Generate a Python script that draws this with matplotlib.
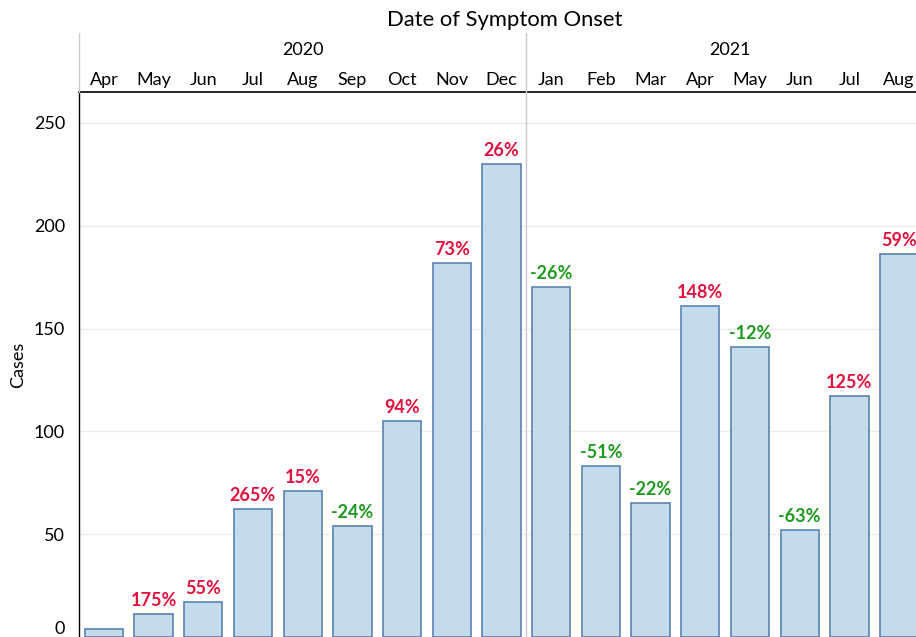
import numpy as np
import matplotlib.pyplot as plt
import matplotlib.transforms as mtransforms
from matplotlib.lines import Line2D

plt.rcParams['font.family'] = ['Lato', 'DejaVu Sans']

months = ['Apr', 'May', 'Jun', 'Jul', 'Aug', 'Sep', 'Oct', 'Nov', 'Dec',
          'Jan', 'Feb', 'Mar', 'Apr', 'May', 'Jun', 'Jul', 'Aug']
years = ['2020', '2021']
cases = [4, 11, 17, 62, 71, 54, 105, 182, 230, 170, 83, 65, 161, 141, 52, 117, 186]
pct = ['', '175%', '55%', '265%', '15%', '-24%', '94%', '73%', '26%',
       '-26%', '-51%', '-22%', '148%', '-12%', '-63%', '125%', '59%']
yticks = [0, 50, 100, 150, 200, 250]

W, H = 916, 637
fig = plt.figure(figsize=(W / 100, H / 100), dpi=100)
left, top, bottom = 79, 92, 637
ax = fig.add_axes([left / W, (H - bottom) / H, 1 - left / W, (bottom - top) / H])

x = np.arange(len(months))
ax.bar(x, cases, width=0.77, color='#c3dbed', edgecolor='#5a82b0', linewidth=1.2, zorder=2)

red, green = '#e3113d', '#1f9a1f'
for i, (v, p) in enumerate(zip(cases, pct)):
    if p:
        ax.text(i, v + 2.5, p, ha='center', va='bottom', fontsize=13, fontweight='bold',
                color=green if p.startswith('-') else red, zorder=3)

ax.set_xlim(-0.5, 16.34)
ax.set_ylim(0, 265)
ax.set_yticks(yticks)
ax.set_yticklabels([str(t) for t in yticks], fontsize=13)
ax.get_yticklabels()[0].set_verticalalignment('bottom')
ax.tick_params(axis='y', length=0, pad=10)
ax.set_xticks([])
ax.grid(axis='y', color='#ececec', linewidth=1, zorder=0)
for s in ['right', 'bottom']:
    ax.spines[s].set_visible(False)
ax.spines['left'].set_color('black')
ax.spines['top'].set_color('black')
ax.spines['left'].set_linewidth(1)
ax.spines['top'].set_linewidth(1.2)

# header
tr = mtransforms.blended_transform_factory(ax.transData, fig.transFigure)
def fy(py):
    return 1 - py / H

for i, m in enumerate(months):
    ax.text(i, fy(80), m, transform=tr, ha='center', va='center', fontsize=13, clip_on=False)
ax.text(4, fy(50), years[0], transform=tr, ha='center', va='center', fontsize=13)
ax.text(12.6, fy(50), years[1], transform=tr, ha='center', va='center', fontsize=13)
fig.text(505 / W, fy(20), 'Date of Symptom Onset', ha='center', va='center', fontsize=15.8)
fig.text(18 / W, fy(365), 'Cases', rotation=90, ha='center', va='center', fontsize=13)

fig.add_artist(Line2D([-0.5, -0.5], [fy(33), fy(92)], transform=tr, color='#cccccc', lw=1))
fig.add_artist(Line2D([8.5, 8.5], [fy(33), fy(637)], transform=tr, color='#c8c8c8', lw=1))

fig.savefig('out.png', dpi=100)
